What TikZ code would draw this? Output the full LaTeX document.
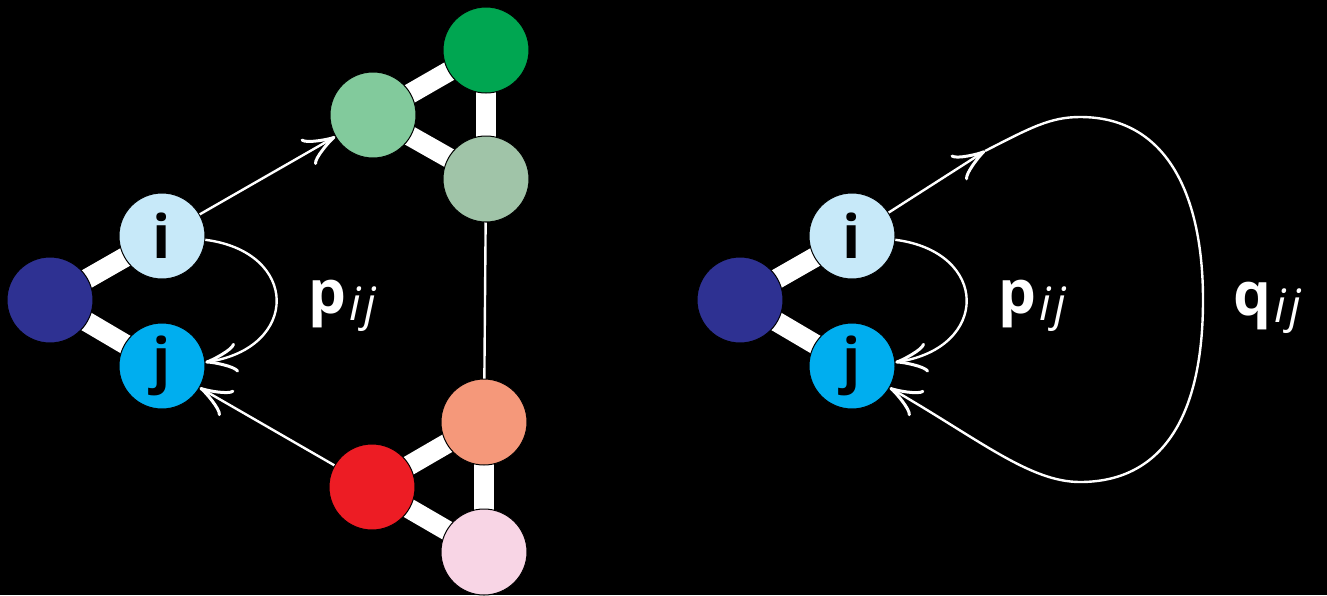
\documentclass[tikz,border=0pt]{standalone}
\usepackage{fontspec}
\setmainfont{Open Sans}
\usepackage{tikz}
\usetikzlibrary{arrows.meta}
\definecolor{navyblob}{RGB}{46,49,146}
\definecolor{iblue}{RGB}{199,233,249}
\definecolor{jblue}{RGB}{0,174,239}
\definecolor{mintgreen}{RGB}{130,202,156}
\definecolor{leafgreen}{RGB}{0,166,81}
\definecolor{sagegreen}{RGB}{160,196,168}
\definecolor{salmon}{RGB}{245,152,122}
\definecolor{brightred}{RGB}{237,28,36}
\definecolor{palepink}{RGB}{248,213,229}
\pgfdeclarelayer{bg}
\pgfdeclarelayer{links}
\pgfsetlayers{bg,links,main}
\tikzset{
  atom/.style={circle,draw=black,line width=0.5pt,minimum size=43pt,inner sep=0pt,
    font=\fontsize{30}{36}\selectfont\bfseries},
  bond/.style={white,line width=10pt},
  hop/.style={white,line width=1.2pt,-{Classical TikZ Rightarrow[length=16pt,width=15pt,line width=1.5pt]}},
  lab/.style={white,anchor=base west,inner sep=0pt}
}
\newcommand{\subij}{\raisebox{-3.5pt}{\fontsize{23}{23}\selectfont\itshape i\kern1.5pt j}}
\begin{document}
\begin{tikzpicture}[line cap=butt,line join=round,x=0.5pt,y=-0.5pt]
\begin{pgfonlayer}{bg}
\fill[black] (0,0) rectangle (1327,595);
\end{pgfonlayer}
% left panel
\node[atom,fill=navyblob] (n0) at (50,300) {};
\node[atom,fill=iblue] (i) at (162,236) {i};
\node[atom,fill=jblue] (j) at (162,366) {j};
\node[atom,fill=mintgreen] (g1) at (373,115) {};
\node[atom,fill=leafgreen] (g2) at (486,50) {};
\node[atom,fill=sagegreen] (g3) at (486,179) {};
\node[atom,fill=salmon] (r1) at (484,422) {};
\node[atom,fill=brightred] (r2) at (372,487) {};
\node[atom,fill=palepink] (r3) at (484,552) {};
% right panel
\node[atom,fill=navyblob] (m0) at (740,300) {};
\node[atom,fill=iblue] (ii) at (852,236) {i};
\node[atom,fill=jblue] (jj) at (852,366) {j};
\coordinate (qa) at (985,151);
\begin{pgfonlayer}{links}
\foreach \a/\b in {n0/i,n0/j,g1/g2,g1/g3,g2/g3,r1/r2,r1/r3,r2/r3,m0/ii,m0/jj}
  \draw[bond] (\a.center) -- (\b.center);
\end{pgfonlayer}
\draw[white,line width=1.2pt] (g3) -- (r1);
\draw[hop] (i) -- (g1);
\draw[hop] (r2) -- (j);
\draw[hop] (i.-5) .. controls (300,252) and (300,348) .. (j.5);
\draw[hop] (ii.-5) .. controls (990,252) and (990,348) .. (jj.5);
\draw[hop] (ii) -- (qa);
\draw[hop] (qa) .. controls (1030,128) and (1050,117) .. (1080,117)
  .. controls (1170,117) and (1203,200) .. (1203,300)
  .. controls (1203,420) and (1160,482) .. (1080,482)
  .. controls (1030,482) and (980,440) .. (jj);
% labels
\node[lab] (pL) at (308,313) {{\fontsize{30}{36}\selectfont\bfseries p}\,\subij};
\node[lab] (pR) at (998,313) {{\fontsize{30}{36}\selectfont\bfseries p}\,\subij};
\node[lab] (qR) at (1233,315) {{\fontsize{30}{36}\selectfont\bfseries q}\,\subij};
\end{tikzpicture}
\end{document}
